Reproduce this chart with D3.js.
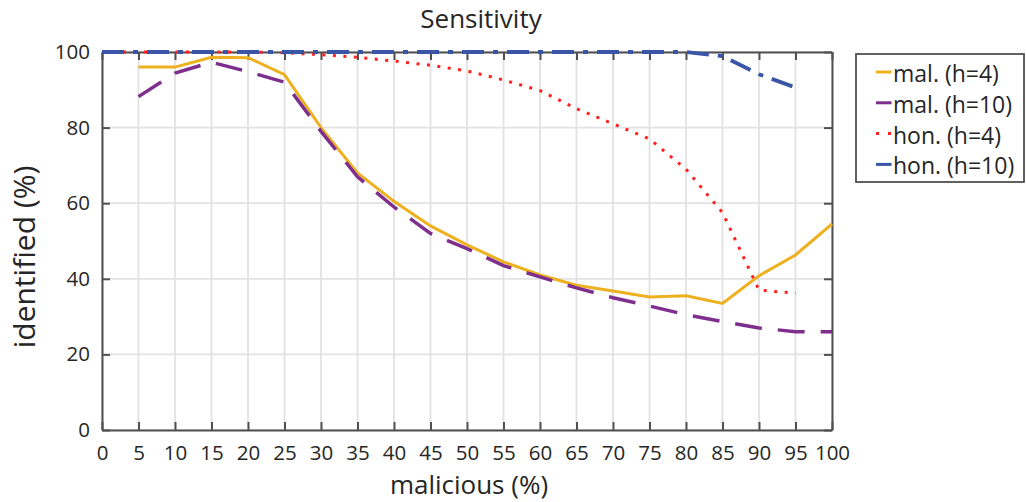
<!DOCTYPE html>
<html>
<head>
<meta charset="utf-8">
<script src="https://cdn.jsdelivr.net/npm/d3@7"></script>
<style>
  html, body { margin: 0; padding: 0; background: #fff; }
  svg text { font-family: "Open Sans", "Noto Sans", sans-serif; fill: #262626; }
</style>
</head>
<body>
<svg id="chart" width="1026" height="502"></svg>
<script>
// Share of malicious nodes (%)
const xVals = [0, 5, 10, 15, 20, 25, 30, 35, 40, 45, 50, 55, 60, 65, 70, 75, 80, 85, 90, 95, 100];
const xTicks = [0, 5, 10, 15, 20, 25, 30, 35, 40, 45, 50, 55, 60, 65, 70, 75, 80, 85, 90, 95, 100];
const yTicks = [0, 20, 40, 60, 80, 100];

// identified (%) per series; null = no point at that x
const malH4  = [null, 96, 96, 98.6, 98.5, 94, 80, 68, 60.5, 54, 49, 44.5, 41, 38.3, 36.8, 35.2, 35.5, 33.5, 40.8, 46.3, 54.5];
const malH10 = [null, 88.2, 94.4, 97.3, 94.8, 92, 79, 67, 59, 52, 48, 43.5, 40.5, 37.6, 35, 32.8, 30.5, 28.7, 27, 26, 26];
const honH4  = [100, 100, 100, 100, 100, 99.8, 99.3, 98.6, 97.6, 96.5, 95, 92.6, 89.8, 85, 81, 77, 69, 57.5, 37, 36.2, null];
const honH10 = [100, 100, 100, 100, 100, 100, 100, 100, 100, 100, 100, 100, 100, 100, 100, 100, 100, 98.9, 94.1, 90.6, null];

const seriesNames = ["mal. (h=4)", "mal. (h=10)", "hon. (h=4)", "hon. (h=10)"];
const seriesData = [malH4, malH10, honH4, honH10];
const seriesColors = ["#EDB120", "#7E2F8E", "#FF1F1F", "#3A55A6"];
const seriesDash = [null, "27,16", "3,7.5", "22,9,5,9"];
const seriesWidth = [3, 3.5, 3, 3.8];

const svg = d3.select("#chart");
const plotL = 102, plotR = 832, plotT = 52, plotB = 430;

const x = d3.scaleLinear().domain([0, 100]).range([plotL, plotR]);
const y = d3.scaleLinear().domain([0, 100]).range([plotB, plotT]);

// grid
const grid = svg.append("g");
grid.selectAll("line.v").data(xTicks).join("line")
  .attr("class", "v")
  .attr("x1", d => x(d)).attr("x2", d => x(d))
  .attr("y1", plotT).attr("y2", plotB)
  .attr("stroke", "#e2e2e2").attr("stroke-width", 1.8);
grid.selectAll("line.h").data(yTicks).join("line")
  .attr("class", "h")
  .attr("x1", plotL).attr("x2", plotR)
  .attr("y1", d => y(d)).attr("y2", d => y(d))
  .attr("stroke", "#e2e2e2").attr("stroke-width", 1.8);

// axes (box with inward ticks)
function styleAxis(g) {
  g.select(".domain").attr("stroke", "#505050").attr("stroke-width", 2);
  g.selectAll(".tick line").attr("stroke", "#505050").attr("stroke-width", 2);
  g.selectAll(".tick text").style("font-size", "20.5px").attr("fill", "#262626");
}
const xAxis = svg.append("g").attr("transform", `translate(0,${plotB})`)
  .call(d3.axisBottom(x).tickValues(xTicks).tickSizeInner(-8).tickSizeOuter(0).tickPadding(15));
styleAxis(xAxis);
const xTop = svg.append("g").attr("transform", `translate(0,${plotT})`)
  .call(d3.axisTop(x).tickValues(xTicks).tickSizeInner(-8).tickSizeOuter(0).tickFormat(""));
styleAxis(xTop);
const yAxis = svg.append("g").attr("transform", `translate(${plotL},0)`)
  .call(d3.axisLeft(y).tickValues(yTicks).tickSizeInner(-8).tickSizeOuter(0).tickPadding(12));
styleAxis(yAxis);
const yRight = svg.append("g").attr("transform", `translate(${plotR},0)`)
  .call(d3.axisRight(y).tickValues(yTicks).tickSizeInner(-8).tickSizeOuter(0).tickFormat(""));
styleAxis(yRight);

// series lines
const line = d3.line()
  .defined(d => d[1] !== null)
  .x(d => x(d[0])).y(d => y(d[1]));
seriesData.forEach((vals, i) => {
  svg.append("path")
    .datum(xVals.map((xv, j) => [xv, vals[j]]))
    .attr("d", line)
    .attr("fill", "none")
    .attr("stroke", seriesColors[i])
    .attr("stroke-width", seriesWidth[i])
    .attr("stroke-dasharray", seriesDash[i]);
});

// titles
svg.append("text").attr("x", 481).attr("y", 28)
  .attr("text-anchor", "middle").style("font-size", "26px").text("Sensitivity");
svg.append("text").attr("x", 469).attr("y", 494)
  .attr("text-anchor", "middle").style("font-size", "26px").text("malicious (%)");
svg.append("text").attr("transform", "translate(35,257) rotate(-90)")
  .attr("text-anchor", "middle").style("font-size", "30px").text("identified (%)");

// legend
const lg = svg.append("g");
lg.append("rect").attr("x", 856).attr("y", 54).attr("width", 168).attr("height", 128)
  .attr("fill", "#fff").attr("stroke", "#505050").attr("stroke-width", 1.8);
seriesNames.forEach((name, i) => {
  const ly = 72 + i * 30.8;
  lg.append("line").attr("x1", 876).attr("x2", 891.5).attr("y1", ly).attr("y2", ly)
    .attr("stroke", seriesColors[i]).attr("stroke-width", 3)
    .attr("stroke-dasharray", i === 2 ? "3,9" : null);
  lg.append("text").attr("x", 893).attr("y", ly + 10)
    .style("font-size", "23px").text(name);
});
</script>
</body>
</html>
